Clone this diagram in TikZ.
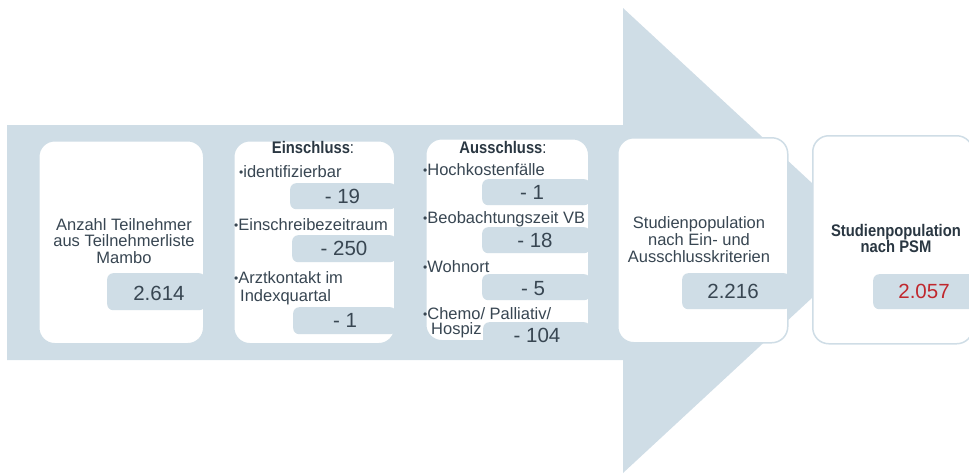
\documentclass[tikz,border=0pt]{standalone}
\usepackage{fontspec}
\setmainfont{Liberation Sans}
\newfontfamily\headfont[FakeStretch=0.88]{Liberation Sans}
\definecolor{arr}{RGB}{207,221,230}
\definecolor{txt}{RGB}{56,70,82}
\definecolor{hd}{RGB}{42,55,66}
\definecolor{numred}{RGB}{192,39,45}
\newcommand{\bul}{{\fontsize{12}{12}\selectfont\raisebox{1pt}{•}}}
\begin{document}
\begin{tikzpicture}[x=1pt,y=-1pt,
  box/.style={draw=arr, line width=1.5pt, fill=white, rounded corners=16pt, anchor=north west, inner sep=0pt},
  valbox/.style={fill=arr, rounded corners=6pt, anchor=north west, inner sep=0pt},
  body/.style={text=txt, inner sep=0pt, font=\fontsize{16.5}{17}\selectfont},
  head/.style={text=hd, inner sep=0pt, font=\headfont\bfseries\fontsize{16.8}{17}\selectfont},
  num/.style={text=txt, inner sep=0pt, anchor=base, font=\fontsize{20.5}{22}\selectfont}]
\useasboundingbox (0,0) rectangle (969,475);
% big arrow
\fill[arr] (7,125) -- (623,125) -- (623,8) -- (874,240.5) -- (623,473) -- (623,360) -- (7,360) -- cycle;
% boxes
\node[box, minimum width=165pt, minimum height=203pt] (b1) at (38,140) {};
\node[box, minimum width=161pt, minimum height=203pt] (b2) at (233,140) {};
\node[box, minimum width=163pt, minimum height=202pt] (b3) at (425,138) {};
\node[box, minimum width=170pt, minimum height=205pt] (b4) at (617,137) {};
\node[box, minimum width=160pt, minimum height=208pt] (b5) at (812,135) {};
% value boxes
\node[valbox, minimum width=98pt, minimum height=37pt] (v1) at (107,273) {};
\node[valbox, minimum width=106pt, minimum height=26pt] (v2a) at (290,183) {};
\node[valbox, minimum width=104pt, minimum height=27pt] (v2b) at (292,235) {};
\node[valbox, minimum width=103pt, minimum height=27pt] (v2c) at (293,307) {};
\node[valbox, minimum width=108pt, minimum height=26pt] (v3a) at (482,179) {};
\node[valbox, minimum width=108pt, minimum height=26pt] (v3b) at (482,227) {};
\node[valbox, minimum width=108pt, minimum height=26pt] (v3c) at (482,274) {};
\node[valbox, minimum width=107pt, minimum height=30pt] (v3d) at (483,322) {};
\node[valbox, minimum width=108pt, minimum height=36pt] (v4) at (682,273) {};
\node[valbox, minimum width=110pt, minimum height=35pt] (v5) at (873,274) {};
% box 1 texts
\node[body, anchor=base] (t1a) at (124,230) {Anzahl Teilnehmer};
\node[body, anchor=base] (t1b) at (124,246) {aus Teilnehmerliste};
\node[body, anchor=base] (t1c) at (124,263) {Mambo};
\node[num] (n1) at (159,300) {2.614};
% box 2 texts
\node[head, anchor=base] (h2) at (313,153) {Einschluss\textmd{:}};
\node[body, anchor=base west] (t2a) at (239,177) {\bul identifizierbar};
\node[body, anchor=base west] (t2b) at (234,230) {\bul Einschreibezeitraum};
\node[body, anchor=base west] (t2c) at (234,283) {\bul Arztkontakt im};
\node[body, anchor=base west] (t2d) at (240,301) {Indexquartal};
\node[num] (n2a) at (342.5,203) {- 19};
\node[num] (n2b) at (344,255) {- 250};
\node[num] (n2c) at (345,327) {- 1};
% box 3 texts
\node[head, anchor=base] (h3) at (503,153) {Ausschluss\textmd{:}};
\node[body, anchor=base west] (t3a) at (423,175) {\bul Hochkostenfälle};
\node[body, anchor=base west] (t3b) at (423,223) {\bul Beobachtungszeit VB};
\node[body, anchor=base west] (t3c) at (423,272) {\bul Wohnort};
\node[body, anchor=base west] (t3d) at (423,319) {\bul Chemo/ Palliativ/};
\node[body, anchor=base west] (t3e) at (431,334) {Hospiz};
\node[num] (n3a) at (532,199) {- 1};
\node[num] (n3b) at (535,247) {- 18};
\node[num] (n3c) at (533,295) {- 5};
\node[num] (n3d) at (537,342) {- 104};
% box 4 texts
\node[body, anchor=base] (t4a) at (699,228) {Studienpopulation};
\node[body, anchor=base] (t4b) at (699,245) {nach Ein- und};
\node[body, anchor=base] (t4c) at (699,262) {Ausschlusskriterien};
\node[num] (n4) at (733,298) {2.216};
% box 5 texts
\node[head, anchor=base] (t5a) at (896,236) {Studienpopulation};
\node[head, anchor=base] (t5b) at (896,252) {nach PSM};
\node[num, text=numred] (n5) at (924,298) {2.057};
\end{tikzpicture}
\end{document}
